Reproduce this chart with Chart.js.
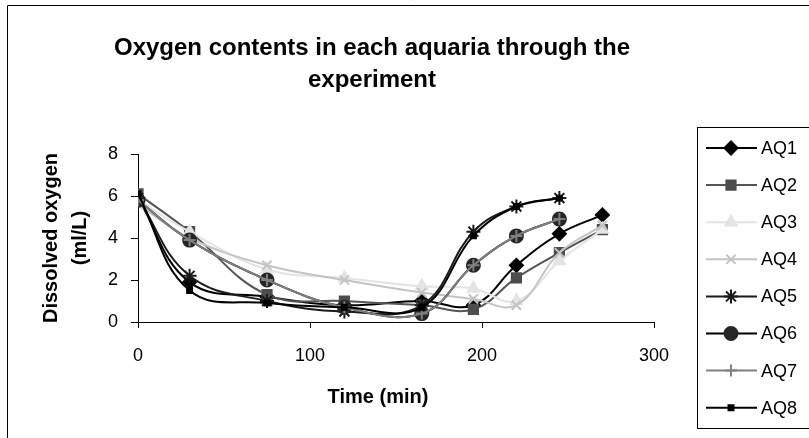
<!DOCTYPE html>
<html>
<head>
<meta charset="utf-8">
<script src="https://cdn.jsdelivr.net/npm/chart.js@4.4.1/dist/chart.umd.min.js"></script>
<style>
  html, body { margin: 0; padding: 0; background: #fff; }
  #wrap { width: 809px; height: 438px; position: relative; }
</style>
</head>
<body>
<div id="wrap"><canvas id="oxygenChart" width="809" height="438"></canvas></div>
<script>
// sampling times (min) and dissolved oxygen (ml/L) for each aquarium
const times = [0, 30, 75, 120, 165, 195, 220, 245, 270];
const aq1 = [5.9, 1.9, 1.2, 0.8, 1.0, 0.8, 2.7, 4.2, 5.1];
const aq2 = [6.1, 4.3, 1.3, 1.0, 0.8, 0.6, 2.1, 3.3, 4.4];
const aq3 = [5.8, 4.3, 2.5, 2.1, 1.7, 1.6, 1.0, 2.9, 4.4];
const aq4 = [5.6, 4.0, 2.7, 2.0, 1.4, 1.1, 0.8, 3.3, 4.6];
const aq5 = [5.9, 2.2, 1.0, 0.5, 0.8, 4.3, 5.5, 5.9, null];
const aq6 = [5.8, 3.9, 2.0, 0.7, 0.4, 2.7, 4.1, 4.9, null];
const aq7 = [5.8, 3.9, 2.0, 0.7, 0.4, 2.7, 4.1, 4.9, null];
const aq8 = [6.1, 1.5, 0.9, 0.7, 0.7, 4.1, 5.5, 5.9, null];
const seriesNames = ['AQ1', 'AQ2', 'AQ3', 'AQ4', 'AQ5', 'AQ6', 'AQ7', 'AQ8'];
const xTicks = [0, 100, 200, 300];
const yTicks = [0, 2, 4, 6, 8];

const FONT = "'Liberation Sans', Arial, sans-serif";

const styles = [
    { line: '#000000', fill: '#000000', point: 'rectRot', r: 6.5 },
    { line: '#555555', fill: '#4d4d4d', point: 'rect', r: 6.5 },
    { line: '#e4e4e4', fill: '#e4e4e4', point: 'triangle', r: 6.5 },
    { line: '#c4c4c4', fill: '#c4c4c4', point: 'crossRot', r: 6.5 },
    { line: '#1a1a1a', fill: '#1a1a1a', point: 'star', r: 7 },
    { line: '#000000', fill: '#262626', point: 'circle', r: 6.5 },
    { line: '#808080', fill: '#808080', point: 'cross', r: 6 },
    { line: '#000000', fill: '#000000', point: 'rect', r: 3.5 }
];

const values = [aq1, aq2, aq3, aq4, aq5, aq6, aq7, aq8];
const datasets = values.map((vals, i) => ({
    label: seriesNames[i],
    data: times.map((t, k) => ({ x: t, y: vals[k] })),
    borderColor: styles[i].line,
    backgroundColor: styles[i].fill,
    pointBackgroundColor: styles[i].fill,
    pointBorderColor: styles[i].fill,
    pointStyle: styles[i].point,
    pointRadius: styles[i].r,
    pointBorderWidth: 2,
    borderWidth: 2,
    tension: 0.4,
    fill: false,
    order: 8 - i // later series painted on top
}));

// title, axis titles, frame and boxed legend
const decorations = {
    id: 'decorations',
    afterDraw(chart) {
        const ctx = chart.ctx;
        ctx.save();

        // outer frame
        ctx.strokeStyle = '#000';
        ctx.lineWidth = 1;
        ctx.beginPath();
        ctx.moveTo(7.5, 438);
        ctx.lineTo(7.5, 5.5);
        ctx.lineTo(809, 5.5);
        ctx.stroke();

        ctx.fillStyle = '#000';
        ctx.textAlign = 'center';
        ctx.textBaseline = 'alphabetic';
        ctx.font = `bold 24px ${FONT}`;
        ctx.fillText('Oxygen contents in each aquaria through the', 372, 55);
        ctx.fillText('experiment', 372, 87);

        ctx.font = `bold 20px ${FONT}`;
        ctx.fillText('Time (min)', 378, 403);

        ctx.save();
        ctx.translate(51, 238);
        ctx.rotate(-Math.PI / 2);
        ctx.textBaseline = 'middle';
        ctx.fillText('Dissolved oxygen', 0, 0);
        ctx.fillText('(ml/L)', 0, 29);
        ctx.restore();

        // legend box
        ctx.strokeStyle = '#000';
        ctx.strokeRect(697.5, 127.5, 120, 301);
        ctx.font = `18px ${FONT}`;
        ctx.textAlign = 'left';
        ctx.textBaseline = 'middle';
        seriesNames.forEach((name, i) => {
            const y = 148 + i * 37.1;
            const st = styles[i];
            ctx.strokeStyle = st.line;
            ctx.lineWidth = 2;
            ctx.beginPath();
            ctx.moveTo(706, y);
            ctx.lineTo(757, y);
            ctx.stroke();
            ctx.fillStyle = st.fill;
            ctx.strokeStyle = st.fill;
            Chart.helpers.drawPoint(ctx, { pointStyle: st.point, radius: st.r, rotation: 0, borderWidth: 2 }, 731, y);
            ctx.fillStyle = '#000';
            ctx.fillText(name, 761, y + 1);
        });
        ctx.restore();
    }
};

new Chart(document.getElementById('oxygenChart').getContext('2d'), {
    type: 'line',
    data: { datasets },
    options: {
        responsive: false,
        animation: false,
        layout: { padding: { top: 154, right: 155, left: 0, bottom: 0 } },
        plugins: { legend: { display: false }, title: { display: false }, tooltip: { enabled: false } },
        scales: {
            x: {
                type: 'linear',
                min: 0, max: 300,
                afterFit: (scale) => { scale.height = 116; },
                afterBuildTicks: (scale) => { scale.ticks = xTicks.map(v => ({ value: v })); },
                grid: { drawOnChartArea: false, drawTicks: true, tickLength: 6, color: '#000' },
                border: { display: true, color: '#000', width: 1 },
                ticks: { color: '#000', padding: 17, maxRotation: 0, font: { family: FONT, size: 18 } }
            },
            y: {
                type: 'linear',
                min: 0, max: 8,
                afterFit: (scale) => { scale.width = 138; },
                afterBuildTicks: (scale) => { scale.ticks = yTicks.map(v => ({ value: v })); },
                grid: { drawOnChartArea: false, drawTicks: true, tickLength: 7, color: '#000' },
                border: { display: true, color: '#000', width: 1 },
                ticks: { color: '#000', padding: 13, font: { family: FONT, size: 18 } }
            }
        }
    },
    plugins: [decorations]
});
</script>
</body>
</html>
